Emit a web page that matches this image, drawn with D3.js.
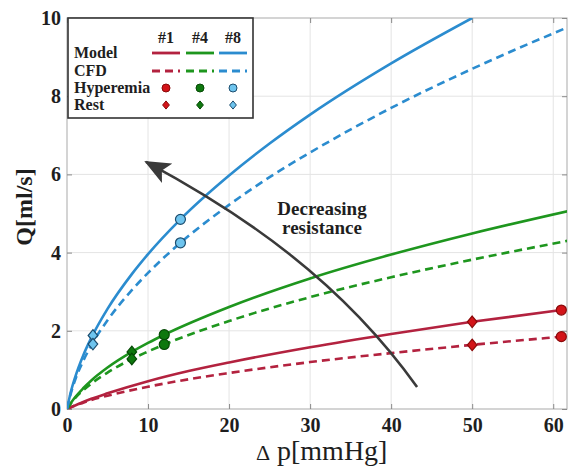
<!DOCTYPE html>
<html>
<head>
<meta charset="utf-8">
<script src="https://cdn.jsdelivr.net/npm/d3@7"></script>
<style>
  body { margin: 0; background: #fff; }
</style>
</head>
<body>
<div id="chart"></div>
<script>
// curves: Δp [mmHg] vs Q [ml/s]
const caseNames = ["#1", "#4", "#8"];

const model1Dp = [0, 1, 2, 3, 5, 10, 15, 20, 30, 40, 50, 61];
const model1Q  = [0, 0.09, 0.18, 0.26, 0.40, 0.71, 0.97, 1.19, 1.58, 1.92, 2.23, 2.53];
const cfd1Dp   = [0, 1, 2, 3, 5, 10, 15, 20, 30, 40, 50, 61];
const cfd1Q    = [0, 0.09, 0.16, 0.23, 0.34, 0.57, 0.76, 0.92, 1.20, 1.43, 1.64, 1.85];

const model4Dp = [0, 0.5, 1, 2, 3, 5, 8, 10, 12, 20, 30, 40, 50, 62];
const model4Q  = [0, 0.16, 0.30, 0.53, 0.73, 1.06, 1.46, 1.69, 1.90, 2.61, 3.34, 3.95, 4.49, 5.07];
const cfd4Dp   = [0, 0.5, 1, 2, 3, 5, 8, 10, 12, 20, 30, 40, 50, 62];
const cfd4Q    = [0, 0.15, 0.28, 0.48, 0.65, 0.93, 1.28, 1.47, 1.65, 2.25, 2.86, 3.37, 3.82, 4.31];

const model8Dp = [0, 0.5, 1, 2, 3, 5, 8, 10, 14, 20, 25, 30, 40, 50];
const model8Q  = [0, 0.46, 0.81, 1.37, 1.82, 2.56, 3.45, 3.96, 4.85, 5.97, 6.79, 7.53, 8.84, 10.0];
const cfd8Dp   = [0, 0.5, 1, 2, 3, 5, 8, 10, 14, 20, 25, 30, 40, 50, 62];
const cfd8Q    = [0, 0.42, 0.74, 1.23, 1.63, 2.27, 3.04, 3.48, 4.25, 5.22, 5.93, 6.56, 7.70, 8.70, 9.78];

// measured operating points, per case (#1, #4, #8)
const hypDp      = [61, 12, 14];
const hypModelQ  = [2.53, 1.90, 4.85];
const hypCfdQ    = [1.85, 1.65, 4.25];
const restDp     = [50, 8, 3.2];
const restModelQ = [2.23, 1.46, 1.88];
const restCfdQ   = [1.64, 1.28, 1.66];

const xTicks = [0, 10, 20, 30, 40, 50, 60];
const yTicks = [0, 2, 4, 6, 8, 10];

// annotation arrow (cubic bezier, data units)
const arrowDp = [43.2, 33.9, 21.7, 9.75];
const arrowQ  = [0.56, 3.27, 4.99, 6.32];

const lineColors = ["#b3223f", "#1e961e", "#2b8ccf"];
const dotFill    = ["#d31419", "#0e780e", "#6ec4ee"];
const dotEdge    = ["#8a0a0a", "#064a06", "#1d4d6e"];

const FONT = "'Liberation Serif', 'Times New Roman', Times, serif";
const W = 569, H = 468;
const svg = d3.select("#chart").append("svg").attr("width", W).attr("height", H)
  .attr("font-family", FONT);

const x = d3.scaleLinear().domain([0, 61.7]).range([67, 567]);
const y = d3.scaleLinear().domain([0, 10]).range([409, 18]);

// grid
const gGrid = svg.append("g").attr("stroke", "#e4e4e4").attr("stroke-width", 1);
gGrid.selectAll("line.v").data(xTicks.slice(1)).join("line")
  .attr("x1", d => x(d)).attr("x2", d => x(d)).attr("y1", y(0)).attr("y2", y(10));
gGrid.selectAll("line.h").data(yTicks.slice(1, -1)).join("line")
  .attr("x1", x(0)).attr("x2", x.range()[1]).attr("y1", d => y(d)).attr("y2", d => y(d));

// frame
svg.append("rect")
  .attr("x", x(0)).attr("y", y(10))
  .attr("width", x.range()[1] - x(0)).attr("height", y(0) - y(10))
  .attr("fill", "none").attr("stroke", "#a9a9a9").attr("stroke-width", 1);

function styleAxis(g, showText) {
  g.attr("font-family", FONT);
  g.select(".domain").remove();
  g.selectAll(".tick line").attr("stroke", "#8a8a8a");
  if (!showText) g.selectAll(".tick text").remove();
  g.selectAll(".tick text").attr("font-size", 20).attr("font-weight", "bold").attr("fill", "#1e1e1e");
}

svg.append("g").attr("transform", `translate(0,${y(0)})`)
  .call(d3.axisBottom(x).tickValues(xTicks).tickSize(-5).tickPadding(9))
  .call(g => styleAxis(g, true));
svg.append("g").attr("transform", `translate(0,${y(10)})`)
  .call(d3.axisTop(x).tickValues(xTicks).tickSize(-5))
  .call(g => styleAxis(g, false));
svg.append("g").attr("transform", `translate(${x(0)},0)`)
  .call(d3.axisLeft(y).tickValues(yTicks).tickSize(-5).tickPadding(6))
  .call(g => styleAxis(g, true));
svg.append("g").attr("transform", `translate(${x.range()[1]},0)`)
  .call(d3.axisRight(y).tickValues(yTicks).tickSize(-5))
  .call(g => styleAxis(g, false));

// axis titles
const xt = svg.append("text").attr("y", 460).attr("fill", "#1e1e1e");
xt.append("tspan").attr("x", 256).attr("font-size", 22).text("Δ");
xt.append("tspan").attr("x", 277).attr("font-size", 28).text("p[mmHg]");

svg.append("text")
  .attr("transform", "translate(32,207) rotate(-90)")
  .attr("text-anchor", "middle").attr("font-size", 24).attr("font-weight", "bold").attr("fill", "#1e1e1e")
  .text("Q[ml/s]");

// curves
svg.append("clipPath").attr("id", "plot").append("rect")
  .attr("x", x(0)).attr("y", y(10)).attr("width", x.range()[1] - x(0)).attr("height", y(0) - y(10));

const line = d3.line().x(d => x(d[0])).y(d => y(d[1])).curve(d3.curveMonotoneX);
const zip = (a, b) => a.map((v, i) => [v, b[i]]);

const curves = [
  { pts: zip(model1Dp, model1Q), c: 0, dash: null },
  { pts: zip(cfd1Dp, cfd1Q), c: 0, dash: "8,5" },
  { pts: zip(model4Dp, model4Q), c: 1, dash: null },
  { pts: zip(cfd4Dp, cfd4Q), c: 1, dash: "8,5" },
  { pts: zip(model8Dp, model8Q), c: 2, dash: null },
  { pts: zip(cfd8Dp, cfd8Q), c: 2, dash: "8,5" }
];

const gCurves = svg.append("g").attr("clip-path", "url(#plot)");
gCurves.selectAll("path").data(curves).join("path")
  .attr("d", d => line(d.pts))
  .attr("fill", "none")
  .attr("stroke", d => lineColors[d.c])
  .attr("stroke-width", 2.6)
  .attr("stroke-dasharray", d => d.dash);

// arrow annotation
svg.append("defs").append("marker")
  .attr("id", "head").attr("markerUnits", "userSpaceOnUse")
  .attr("viewBox", "0 0 26 22").attr("refX", 24).attr("refY", 11)
  .attr("markerWidth", 26).attr("markerHeight", 22).attr("orient", "auto")
  .append("path").attr("d", "M0,0 L26,11 L0,22 L6,11 Z").attr("fill", "#3a3a3a");

const ap = arrowDp.map((d, i) => [x(d), y(arrowQ[i])]);
svg.append("path")
  .attr("d", `M${ap[0]} C${ap[1]} ${ap[2]} ${ap[3]}`)
  .attr("fill", "none").attr("stroke", "#3a3a3a").attr("stroke-width", 2.6)
  .attr("marker-end", "url(#head)");

const ann = svg.append("text").attr("x", 322).attr("text-anchor", "middle")
  .attr("font-size", 19).attr("font-weight", "bold").attr("fill", "#1e1e1e");
ann.append("tspan").attr("x", 322).attr("y", 215).text("Decreasing");
ann.append("tspan").attr("x", 322).attr("y", 234).text("resistance");

// markers
const diamond = (cx, cy, r) => `M${cx},${cy - r * 1.2}L${cx + r},${cy}L${cx},${cy + r * 1.2}L${cx - r},${cy}Z`;

const gDots = svg.append("g");
caseNames.forEach((name, i) => {
  [hypModelQ[i], hypCfdQ[i]].forEach(q => {
    gDots.append("circle").attr("cx", x(hypDp[i])).attr("cy", y(q)).attr("r", 5)
      .attr("fill", dotFill[i]).attr("stroke", dotEdge[i]).attr("stroke-width", 1.2);
  });
  [restModelQ[i], restCfdQ[i]].forEach(q => {
    gDots.append("path").attr("d", diamond(x(restDp[i]), y(q), 4.8))
      .attr("fill", dotFill[i]).attr("stroke", dotEdge[i]).attr("stroke-width", 1.2);
  });
});

// legend
const lg = svg.append("g");
lg.append("rect").attr("x", 68).attr("y", 18).attr("width", 185).attr("height", 100)
  .attr("fill", "#fff").attr("stroke", "#333").attr("stroke-width", 1.6);

const colX = [166, 200, 233];
const rowY = { head: 37, model: 53, cfd: 71, hyp: 88, rest: 105 };

lg.selectAll("text.head").data(caseNames).join("text")
  .attr("x", (d, i) => colX[i]).attr("y", rowY.head + 6).attr("fill", "#1e1e1e")
  .attr("text-anchor", "middle").attr("font-size", 16).attr("font-weight", "bold").text(d => d);

[["Model", rowY.model], ["CFD", rowY.cfd], ["Hyperemia", rowY.hyp], ["Rest", rowY.rest]].forEach(([t, yy]) => {
  lg.append("text").attr("x", 74).attr("y", yy + 5).attr("fill", "#1e1e1e")
    .attr("font-size", 16).attr("font-weight", "bold").text(t);
});

caseNames.forEach((name, i) => {
  lg.append("line").attr("x1", colX[i] - 14).attr("x2", colX[i] + 14)
    .attr("y1", rowY.model).attr("y2", rowY.model)
    .attr("stroke", lineColors[i]).attr("stroke-width", 2.8);
  lg.append("line").attr("x1", colX[i] - 14).attr("x2", colX[i] + 14)
    .attr("y1", rowY.cfd).attr("y2", rowY.cfd)
    .attr("stroke", lineColors[i]).attr("stroke-width", 2.8).attr("stroke-dasharray", "8,5");
  lg.append("circle").attr("cx", colX[i]).attr("cy", rowY.hyp).attr("r", 4)
    .attr("fill", dotFill[i]).attr("stroke", dotEdge[i]).attr("stroke-width", 1);
  lg.append("path").attr("d", diamond(colX[i], rowY.rest, 3.4))
    .attr("fill", dotFill[i]).attr("stroke", dotEdge[i]).attr("stroke-width", 1);
});
</script>
</body>
</html>
